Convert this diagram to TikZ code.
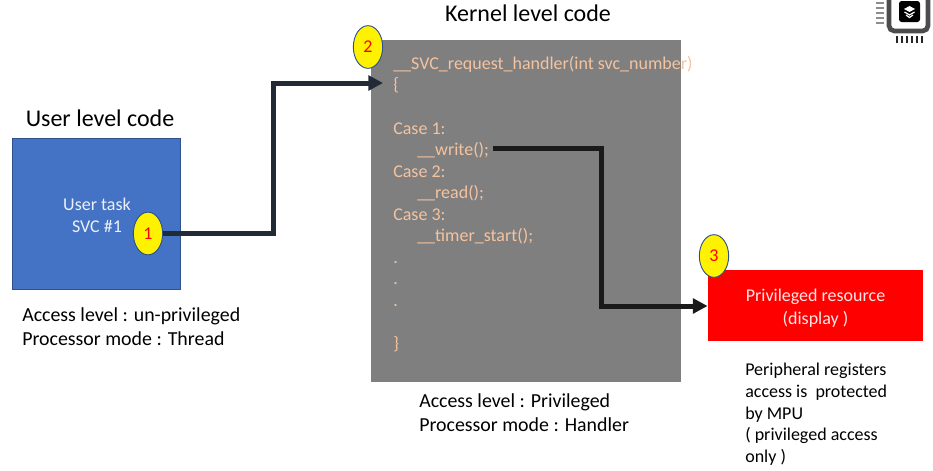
\documentclass[tikz,border=0pt]{standalone}
\usepackage{fontspec}
\setmainfont{Carlito}
\usetikzlibrary{arrows.meta,shapes.geometric}

\definecolor{userblue}{HTML}{4472C4}
\definecolor{edgeblue}{HTML}{2F528F}
\definecolor{kernelgray}{HTML}{7F7F7F}
\definecolor{codetext}{HTML}{F4C3A0}
\definecolor{darkline}{HTML}{222A35}
\definecolor{blackline}{HTML}{1A1A1A}

\tikzset{
  badge/.style={draw=edgeblue, fill=yellow, ellipse, line width=0.7pt, minimum width=22pt, minimum height=32pt, inner sep=0pt, text=red, font=\fontsize{13.5}{14}\selectfont},
  title/.style={font=\fontsize{18}{22}\selectfont},
  plain/.style={font=\fontsize{14.9}{18}\selectfont, align=left, anchor=north west, inner sep=0pt},
  small/.style={font=\fontsize{13.5}{16.3}\selectfont, align=left, anchor=north west, inner sep=0pt},
  link/.style={line width=3.75pt, -{Triangle[length=11pt,width=11pt]}},
}

\begin{document}
\begin{tikzpicture}[x=0.75pt, y=-0.75pt]

\useasboundingbox (0,0) rectangle (933,471);

% boxes
\node (userbox) at (96.5,214) [draw=edgeblue, fill=userblue, line width=0.7pt, minimum width=126pt, minimum height=113.5pt, inner sep=0pt] {};
\node (kernelbox) at (526,211) [fill=kernelgray, minimum width=232.5pt, minimum height=256.5pt, inner sep=0pt] {};
\node (resource) at (815.5,305.5) [fill=red, minimum width=161.5pt, minimum height=53pt, inner sep=0pt] {};

% titles
\node (usertitle) at (100,118) [title] {User level code};
\node (kerneltitle) at (528,13) [title] {Kernel level code};

% texts
\node (usertask) at (97,215) [text=white!90!userblue, align=center, font=\fontsize{13.5}{16.5}\selectfont] {User task\\SVC \#1};
\node (restext) at (815.5,308) [text=white!90!red, align=center, font=\fontsize{13.5}{17}\selectfont] {Privileged resource\\(display )};
\node (useraccess) at (22,307) [plain] {Access level : un-privileged\\Processor mode : Thread};
\node (kernelaccess) at (419,393) [plain] {Access level : Privileged\\Processor mode : Handler};
\node (note) at (745,363) [small] {Peripheral registers\\access is\ \ protected\\by MPU\\( privileged access\\only )};

\node (handler) at (393,56) [anchor=north west, inner sep=0pt, align=left, text=codetext, font=\fontsize{13.5}{16.15}\selectfont] {%
\_\_SVC\_request\_handler(int svc\_number)\\
\{\\
\mbox{}\\
Case 1:\\
\hspace*{18pt}\_\_write();\\
Case 2:\\
\hspace*{18pt}\_\_read();\\
Case 3:\\
\hspace*{18pt}\_\_timer\_start();\\
.\\
.\\
.\\
\mbox{}\\
\}};

% badges
\node (one) at (148,233.5) [badge] {1};
\node (two) at (368,47) [badge] {2};
\node (three) at (714,256) [badge] {3};

% connectors
\coordinate (bend) at (273,83);
\coordinate (entry) at (383,83);
\coordinate (writeend) at (493,148);
\coordinate (drop) at (601,306);

\draw [link, color=darkline] (one.east) -| (bend) -- (entry);
\draw [link, color=blackline] (writeend) -| (drop) -- (resource.west |- drop);

% chip icon
\draw [line width=3.5pt, color=black!70, rounded corners=4pt] (889,-5) -- (889,31) -- (928,31) -- (928,-5);
\fill [black, rounded corners=2pt] (899,1) rectangle (920,22);
\foreach \ypos in {3,8,13,18,23} {
  \draw [line width=1.2pt, color=black!45] (876,\ypos) -- (884,\ypos);
}
\foreach \xpos in {897,902,907,912,917,922} {
  \draw [line width=1.1pt, color=black!85] (\xpos,36) -- (\xpos,43);
}
\fill [white] (904,9) -- (909.5,6) -- (915,9) -- (909.5,12) -- cycle;
\draw [white, line width=0.9pt] (904.5,12) -- (909.5,15) -- (914.5,12);
\draw [white, line width=0.9pt] (906,15) -- (909.5,17.5) -- (913,15);

\end{tikzpicture}
\end{document}
